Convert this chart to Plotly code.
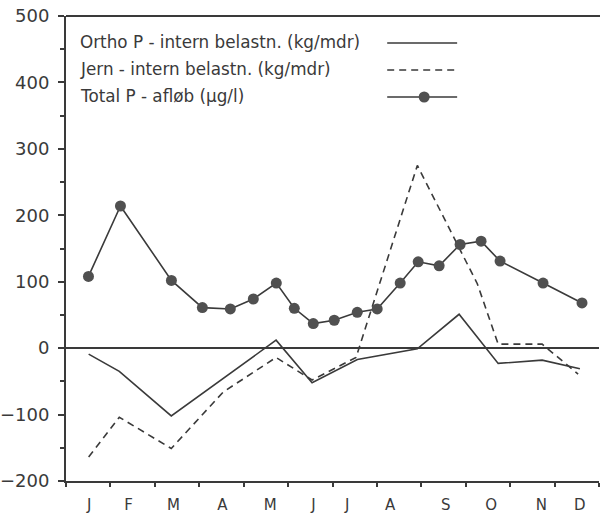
import plotly.graph_objects as go

# Month positions (in months from 1 Jan) and labels for the x axis
month_labels = ["J", "F", "M", "A", "M", "J", "J", "A", "S", "O", "N", "D"]
month_pos = [0.52, 1.41, 2.42, 3.52, 4.60, 5.57, 6.33, 7.30, 8.55, 9.57, 10.70, 11.57]

# Ortho P - internal load (kg/month)
ortho_x = [0.51, 1.20, 2.37, 4.73, 5.54, 6.56, 7.91, 8.85, 9.73, 10.72, 11.57]
ortho_y = [-9, -35, -102, 12, -52, -17, -1, 51, -23, -18, -31]

# Iron - internal load (kg/month)
jern_x = [0.51, 1.20, 2.37, 3.54, 4.73, 5.54, 6.53, 7.91, 9.26, 9.73, 10.72, 11.53]
jern_y = [-164, -104, -151, -66, -14, -48, -14, 275, 97, 6, 6, -39]

# Total P in outflow (ug/l)
totp_x = [0.506, 1.226, 2.373, 3.070, 3.700, 4.217, 4.735, 5.140, 5.567, 6.039,
          6.557, 7.006, 7.524, 7.929, 8.401, 8.873, 9.345, 9.773, 10.740, 11.617]
totp_y = [108, 214, 102, 61, 59, 74, 98, 60, 37, 42,
          54, 59, 98, 130, 124, 156, 161, 131, 98, 68]

legend_names = ["Ortho P - intern belastn. (kg/mdr)",
                "Jern - intern belastn. (kg/mdr)",
                "Total P - afløb (µg/l)"]

INK = "#3a3a3a"
FONT = "DejaVu Sans"

fig = go.Figure()
fig.add_trace(go.Scatter(x=ortho_x, y=ortho_y, mode="lines",
                         line=dict(color=INK, width=1.6), name=legend_names[0]))
fig.add_trace(go.Scatter(x=jern_x, y=jern_y, mode="lines",
                         line=dict(color=INK, width=1.6, dash="7px,5px"),
                         name=legend_names[1]))
fig.add_trace(go.Scatter(x=totp_x, y=totp_y, mode="lines+markers",
                         line=dict(color=INK, width=1.6),
                         marker=dict(size=11, color="#505050",
                                     line=dict(width=0)),
                         name=legend_names[2]))

# Hand-built legend: text on the left, line sample on the right
rows_y = [42, 69, 96]          # pixel rows from the top of the page
H = 517.0
top_m, bot_m = 16, 36
ph = H - top_m - bot_m


def py(pix):
    """Pixel row -> paper y coordinate."""
    return 1 - (pix - top_m) / ph


L = 65.5
pw = 600 - L - 1


def px(pix):
    """Pixel column -> paper x coordinate."""
    return (pix - L) / pw


dashes = ["solid", "7px,5px", "solid"]
for i, name in enumerate(legend_names):
    fig.add_annotation(x=px(78), y=py(rows_y[i]), xref="paper", yref="paper",
                       text=name, showarrow=False, xanchor="left",
                       yanchor="middle",
                       font=dict(family=FONT, size=16.8, color=INK))
    fig.add_shape(type="line", xref="paper", yref="paper",
                  x0=px(387), x1=px(457), y0=py(rows_y[i] + 1),
                  y1=py(rows_y[i] + 1),
                  line=dict(color=INK, width=1.6, dash=dashes[i]))
r = 5.5
fig.add_shape(type="circle", xref="paper", yref="paper",
              x0=px(424 - r), x1=px(424 + r),
              y0=py(rows_y[2] + 1 - r), y1=py(rows_y[2] + 1 + r),
              fillcolor="#505050", line=dict(width=0))

# Top frame line
fig.add_shape(type="line", xref="paper", yref="paper", x0=0, x1=1.002,
              y0=1, y1=1, line=dict(color=INK, width=2))

fig.update_layout(
    width=600, height=517,
    margin=dict(l=L, r=1, t=top_m, b=bot_m),
    paper_bgcolor="white", plot_bgcolor="white",
    showlegend=False,
    font=dict(family=FONT, color=INK),
    xaxis=dict(range=[0, 12], tickmode="array", tickvals=month_pos,
               ticktext=month_labels, ticks="", showgrid=False,
               zeroline=False, showline=True, linecolor=INK, linewidth=2,
               tickfont=dict(family=FONT, size=15, color=INK),
               ticklabelstandoff=9,
               minor=dict(tickmode="linear", tick0=0, dtick=1, ticks="outside",
                          ticklen=4, tickwidth=1.5, tickcolor=INK,
                          showgrid=False)),
    yaxis=dict(range=[-200, 500], tickmode="linear", tick0=-200, dtick=100,
               ticks="outside", ticklen=6, tickwidth=1.5, tickcolor=INK,
               showgrid=False, zeroline=True, zerolinecolor=INK,
               zerolinewidth=1.5, showline=True, linecolor=INK, linewidth=2,
               tickfont=dict(family=FONT, size=18, color=INK),
               ticklabelstandoff=5,
               minor=dict(tickmode="linear", tick0=-150, dtick=100,
                          ticks="outside", ticklen=4, tickwidth=1.5,
                          tickcolor=INK, showgrid=False)),
)

fig.write_html("out.html")
